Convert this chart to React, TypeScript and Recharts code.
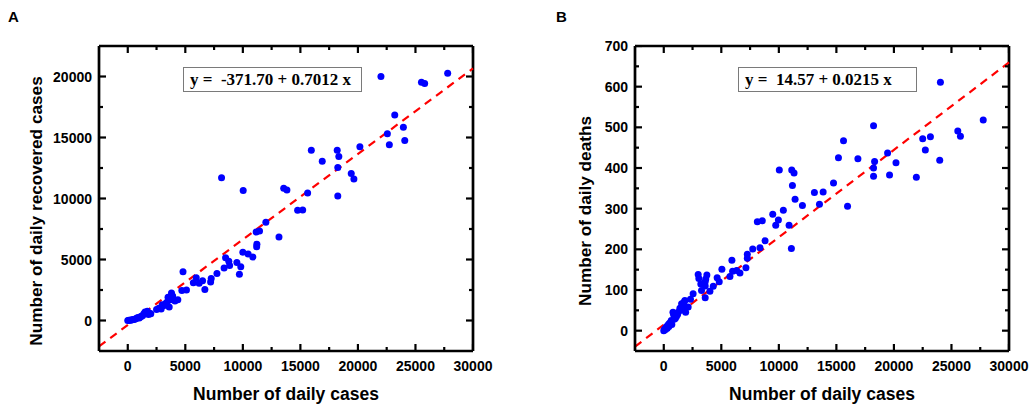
import React from 'react';
import {
  ScatterChart,
  Scatter,
  XAxis,
  YAxis,
  ReferenceLine,
  Label,
} from 'recharts';

// Panel A: daily cases vs daily recovered cases
const casesA = [
  0, 100, 200, 300, 400, 500, 600, 700, 800, 900, 1000, 1100, 1200, 1300, 1400, 1500, 1600, 1700,
  1800, 1900, 2000, 2500, 2700, 2900, 3000, 3100, 3300, 3400, 3500, 3600, 3700, 3800, 3900, 4100,
  4350, 4700, 4800, 5100, 5700, 5950, 6200, 6500, 6700, 7200, 7250, 7750, 8150, 8370, 8500, 8780,
  8850, 9480, 9700, 9820, 10000, 10030, 10460, 10870, 11200, 11220, 11160, 11450, 12000, 13140,
  13550, 13830, 14760, 15200, 15630, 15950, 16900, 18200, 18340, 18250, 18250, 19420, 19650, 20170,
  22000, 22560, 22730, 23200, 23950, 24070, 25520, 25800, 27800,
];
const recoveredA = [
  0, 20, 30, 50, 60, 80, 100, 150, 200, 250, 200, 300, 350, 400, 550, 700, 650, 750,
  500, 600, 550, 900, 1000, 950, 1300, 1200, 1400, 1500, 1900, 1100, 1700, 2250, 2000, 1600,
  1700, 2450, 4000, 2500, 3100, 3500, 3050, 3250, 2550, 3150, 3450, 3850, 11700, 4300, 5150, 4850,
  4500, 4750, 3800, 4400, 5600, 10650, 5450, 5200, 6050, 6250, 7250, 7330, 8050, 6850,
  10850, 10700, 9030, 9050, 10450, 13950, 13050, 13950, 13450, 12550, 10200, 12050, 11600, 14250,
  20000, 15300, 14400, 16850, 15850, 14750, 19530, 19430, 20270,
];

// Panel B: daily cases vs daily deaths
const casesB = [
  0, 50, 100, 150, 200, 250, 300, 350, 400, 450, 500, 600, 650, 700, 800, 850, 900, 1000, 1100,
  1200, 1250, 1400, 1500, 1550, 1700, 1750, 1830, 1900, 2120, 2320, 2550, 2990, 3050, 3220, 3280,
  3600, 3600, 3600, 3650, 3745, 4010, 4300, 4640, 4820, 5050, 5750, 5920, 5980, 6330, 6620, 7140,
  7260, 7260, 7730, 8130, 8360, 8560, 8800, 9470, 9730, 9960, 10040, 10390, 10890, 11090, 11120,
  11180, 11320, 11410, 12050, 13090, 13530, 13850, 14750, 15180, 15620, 15970, 16870, 18230,
  18230, 18230, 18320, 19450, 19620, 20180, 21950, 22500, 22730, 23170, 23980, 24040, 25550,
  25780, 27760,
];
const deathsB = [
  0, 2, 5, 3, 8, 10, 6, 12, 15, 10, 18, 20, 25, 15, 45, 40, 28, 30, 35,
  40, 45, 55, 50, 66, 58, 70, 74, 45, 58, 77, 91, 138, 128, 115, 99,
  81, 110, 120, 127, 137, 97, 109, 130, 120, 151, 133, 173, 146, 148, 142, 155,
  188, 178, 201, 268, 204, 270, 221, 286, 259, 272, 395, 296, 259, 202, 395,
  357, 388, 323, 308, 340, 311, 341, 363, 425, 467, 306, 423, 400,
  380, 504, 416, 437, 383, 413, 377, 472, 444, 477, 419, 611, 491,
  478, 518,
];

// axis ticks
const xTicks = [0, 2500, 5000, 7500, 10000, 12500, 15000, 17500, 20000, 22500, 25000, 27500, 30000];
const yTicksA = [0, 2500, 5000, 7500, 10000, 12500, 15000, 17500, 20000];
const yTicksB = [0, 50, 100, 150, 200, 250, 300, 350, 400, 450, 500, 550, 600, 650, 700];

// fitted lines
const fitA = { intercept: -371.7, slope: 0.7012 };
const fitB = { intercept: 14.57, slope: 0.0215 };

const dataA = casesA.map((x, i) => ({ x, y: recoveredA[i] }));
const dataB = casesB.map((x, i) => ({ x, y: deathsB[i] }));

const SANS = '"Liberation Sans", Arial, sans-serif';
const PLOT_W = 374;
const PLOT_H = 305;
const Y_AXIS_W = 60;
const X_AXIS_H = 30;
const FRAME = 2.7;

function XTick({ x, y, payload }: any) {
  if (payload.value % 5000 !== 0) return <g />;
  return (
    <text x={x} y={y + 20} textAnchor='middle' fontFamily={SANS} fontWeight='bold' fontSize={14} fill='#000'>
      {payload.value}
    </text>
  );
}

function YTick({ x, y, payload, step }: any) {
  if (payload.value % step !== 0) return <g />;
  return (
    <text x={x - 7} y={y} dy='0.36em' textAnchor='end' fontFamily={SANS} fontWeight='bold' fontSize={14} fill='#000'>
      {payload.value}
    </text>
  );
}

// inward tick marks, placed through the chart scales on the bottom and left edges
// and mirrored onto the top and right edges of the frame
const xMark = (p: any) => {
  const len = p.payload.major ? 7 : 4;
  return (
    <g>
      <line x1={p.cx} y1={p.cy} x2={p.cx} y2={p.cy - len} stroke='#000' strokeWidth={2.2} />
      <line x1={p.cx} y1={p.cy - PLOT_H} x2={p.cx} y2={p.cy - PLOT_H + len} stroke='#000' strokeWidth={2.2} />
    </g>
  );
};
const yMark = (p: any) => {
  const len = p.payload.major ? 7 : 4;
  return (
    <g>
      <line x1={p.cx} y1={p.cy} x2={p.cx + len} y2={p.cy} stroke='#000' strokeWidth={2.2} />
      <line x1={p.cx + PLOT_W} y1={p.cy} x2={p.cx + PLOT_W - len} y2={p.cy} stroke='#000' strokeWidth={2.2} />
    </g>
  );
};

const dot = (p: any) => <circle cx={p.cx} cy={p.cy} r={3.5} fill='#0000ff' />;

function Panel({ data, fit, yDomain, yTicks, yStep, yLabel, xLabel, plotLeft, marginRight, yLabelX }: any) {
  const [x0, x1] = [-2500, 30000];
  const xMarks = xTicks.map((v) => ({ x: v, y: yDomain[0], major: v % 5000 === 0 }));
  const yMarks = yTicks.map((v: number) => ({ x: x0, y: v, major: v % yStep === 0 }));
  return (
    <ScatterChart
      width={515}
      height={407}
      margin={{ top: 46, right: marginRight, bottom: 56 - X_AXIS_H, left: plotLeft - Y_AXIS_W }}
    >
      <XAxis
        type='number'
        dataKey='x'
        domain={[x0, x1]}
        ticks={xTicks}
        interval={0}
        height={X_AXIS_H}
        tickSize={0}
        tickMargin={0}
        axisLine={{ stroke: '#000', strokeWidth: FRAME }}
        tickLine={false}
        tick={<XTick />}
        allowDataOverflow
      >
        <Label
          content={() => (
            <text x={plotLeft + PLOT_W / 2} y={400} textAnchor='middle' fontFamily={SANS} fontWeight='bold' fontSize={17.5} fill='#000'>
              {xLabel}
            </text>
          )}
        />
      </XAxis>
      <YAxis
        type='number'
        dataKey='y'
        domain={yDomain}
        ticks={yTicks}
        interval={0}
        width={Y_AXIS_W}
        tickSize={0}
        tickMargin={0}
        axisLine={{ stroke: '#000', strokeWidth: FRAME }}
        tickLine={false}
        tick={<YTick step={yStep} />}
        allowDataOverflow
      >
        <Label
          content={() => (
            <text
              x={yLabelX}
              y={211}
              textAnchor='middle'
              dy='0.35em'
              transform={`rotate(-90 ${yLabelX} 211)`}
              fontFamily={SANS}
              fontWeight='bold'
              fontSize={17.2}
              fill='#000'
            >
              {yLabel}
            </text>
          )}
        />
      </YAxis>
      <ReferenceLine y={yDomain[1]} stroke='#000' strokeWidth={FRAME} />
      <ReferenceLine x={x1} stroke='#000' strokeWidth={FRAME} />
      <ReferenceLine
        segment={[
          { x: x0, y: fit.intercept + fit.slope * x0 },
          { x: x1, y: fit.intercept + fit.slope * x1 },
        ]}
        stroke='#ff0000'
        strokeWidth={2.2}
        strokeDasharray='8 6'
      />
      <Scatter data={xMarks} shape={xMark} isAnimationActive={false} />
      <Scatter data={yMarks} shape={yMark} isAnimationActive={false} />
      <Scatter data={data} shape={dot} isAnimationActive={false} />
    </ScatterChart>
  );
}

const eqBox: React.CSSProperties = {
  position: 'absolute',
  height: 23,
  width: 171,
  border: '1.5px solid #7a7a7a',
  background: '#fff',
  fontFamily: '"Liberation Serif", "Times New Roman", serif',
  fontWeight: 'bold',
  fontSize: 17,
  lineHeight: '23px',
  whiteSpace: 'pre',
  color: '#000',
  boxSizing: 'content-box',
};

const letter: React.CSSProperties = {
  position: 'absolute',
  fontFamily: SANS,
  fontWeight: 'bold',
  fontSize: 15,
  color: '#000',
};

export default function App() {
  return (
    <div style={{ position: 'absolute', left: 0, top: 0, width: 1030, height: 407, background: '#fff', overflow: 'hidden' }}>
      <div style={{ position: 'absolute', left: 0, top: 0 }}>
        <Panel
          data={dataA}
          fit={fitA}
          yDomain={[-2500, 22500]}
          yTicks={yTicksA}
          yStep={5000}
          yLabel='Number of daily recovered cases'
          xLabel='Number of daily  cases'
          plotLeft={99}
          marginRight={42}
          yLabelX={36}
        />
      </div>
      <div style={{ position: 'absolute', left: 515, top: 0 }}>
        <Panel
          data={dataB}
          fit={fitB}
          yDomain={[-50, 700]}
          yTicks={yTicksB}
          yStep={100}
          yLabel='Number of daily deaths'
          xLabel='Number of daily cases'
          plotLeft={120}
          marginRight={21}
          yLabelX={70}
        />
      </div>
      <div style={{ ...eqBox, left: 183, top: 67, paddingLeft: 6 }}>{'y =  -371.70 + 0.7012 x'}</div>
      <div style={{ ...eqBox, left: 738, top: 67, paddingLeft: 6 }}>{'y =  14.57 + 0.0215 x'}</div>
      <div style={{ ...letter, left: 8, top: 8 }}>A</div>
      <div style={{ ...letter, left: 556, top: 8 }}>B</div>
    </div>
  );
}
